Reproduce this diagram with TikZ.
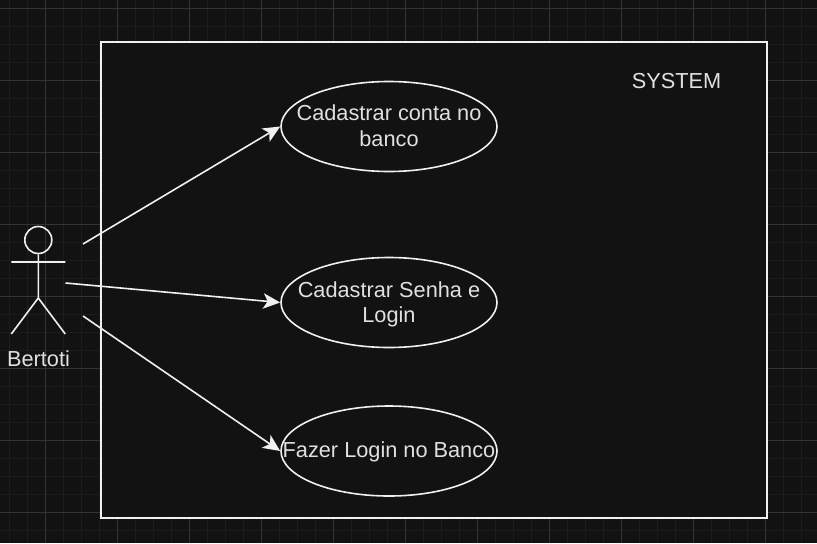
\documentclass[tikz,border=0pt]{standalone}
\usepackage{fontspec}
\setmainfont{Liberation Sans}
\usetikzlibrary{arrows.meta,shapes.geometric}
\definecolor{bgdark}{HTML}{121212}
\definecolor{gridminor}{HTML}{1C1C1C}
\definecolor{gridmajor}{HTML}{333333}
\definecolor{linelight}{HTML}{F0F0F0}
\definecolor{textlight}{HTML}{E0E0E0}
\tikzset{
    casetext/.style={align=center,text=textlight,inner sep=0pt,
        font=\fontsize{16.3pt}{19pt}\selectfont},
    usecase/.style={ellipse,draw=linelight,fill=bgdark,line width=1.6*0.75pt,
        minimum width=216*0.75pt,minimum height=90*0.75pt,inner sep=0pt},
    actorline/.style={draw=linelight,line width=1.6*0.75pt},
    textlabel/.style={text=textlight,font=\fontsize{16.3pt}{19pt}\selectfont,inner sep=0pt},
    link/.style={->,draw=linelight,line width=1.6*0.75pt}
}
\begin{document}
\begin{tikzpicture}[x=0.75pt,y=-0.75pt,
            >={Stealth[length=17*0.75pt,width=15.5*0.75pt,inset=4.5*0.75pt]}]

        \useasboundingbox (0,0) rectangle (817,543);
        \fill[bgdark] (0,0) rectangle (817,543);

        % grid
        \foreach \gx in {0,...,45}
            \draw[gridminor,line width=0.75pt] (9.4+18*\gx,0) -- (9.4+18*\gx,543);
        \foreach \gy in {0,...,30}
            \draw[gridminor,line width=0.75pt] (0,8+18*\gy) -- (817,8+18*\gy);
        \foreach \gx in {0,...,10}
            \draw[gridmajor,line width=0.75pt] (45.4+72*\gx,0) -- (45.4+72*\gx,543);
        \foreach \gy in {0,...,7}
            \draw[gridmajor,line width=0.75pt] (0,8+72*\gy) -- (817,8+72*\gy);

        % system box
        \node[draw=linelight,fill=bgdark,line width=1.5pt,inner sep=0pt,
              minimum width=666*0.75pt,minimum height=476*0.75pt] (system) at (434,280) {};
        \node[textlabel] (systemlabel) at (676.5,81.5) {SYSTEM};

        % use cases
        \node[usecase,label={[casetext,yshift=0.5pt]center:Cadastrar conta no\\banco}] (conta) at (389,126.5) {};
        \node[usecase,label={[casetext,yshift=-1.5pt]center:Cadastrar Senha e\\Login}] (senha) at (389,302.5) {};
        \node[usecase,label={[casetext,yshift=-0.5pt]center:Fazer Login no Banco}] (login) at (389,451) {};

        % actor
        \node[circle,draw=linelight,line width=1.6*0.75pt,inner sep=0pt,
              minimum size=27*0.75pt] (head) at (38.3,240) {};
        \coordinate (hip) at (38.3,298);
        \coordinate (armL) at (11.3,262);
        \coordinate (armR) at (65.3,262);
        \coordinate (legL) at (11.3,334);
        \coordinate (legR) at (65.3,334);
        \draw[actorline] (head.south) -- (hip) (armL) -- (armR) (legL) -- (hip) -- (legR);
        \node[textlabel] (bertoti) at (38.5,358.5) {Bertoti};

        % connectors
        \coordinate (fromconta) at (83,244);
        \coordinate (fromsenha) at (65.5,283);
        \coordinate (fromlogin) at (83,316);
        \draw[link] (fromconta) -- (conta.west);
        \draw[link] (fromsenha) -- (senha.west);
        \draw[link] (fromlogin) -- (login.west);

\end{tikzpicture}
\end{document}
